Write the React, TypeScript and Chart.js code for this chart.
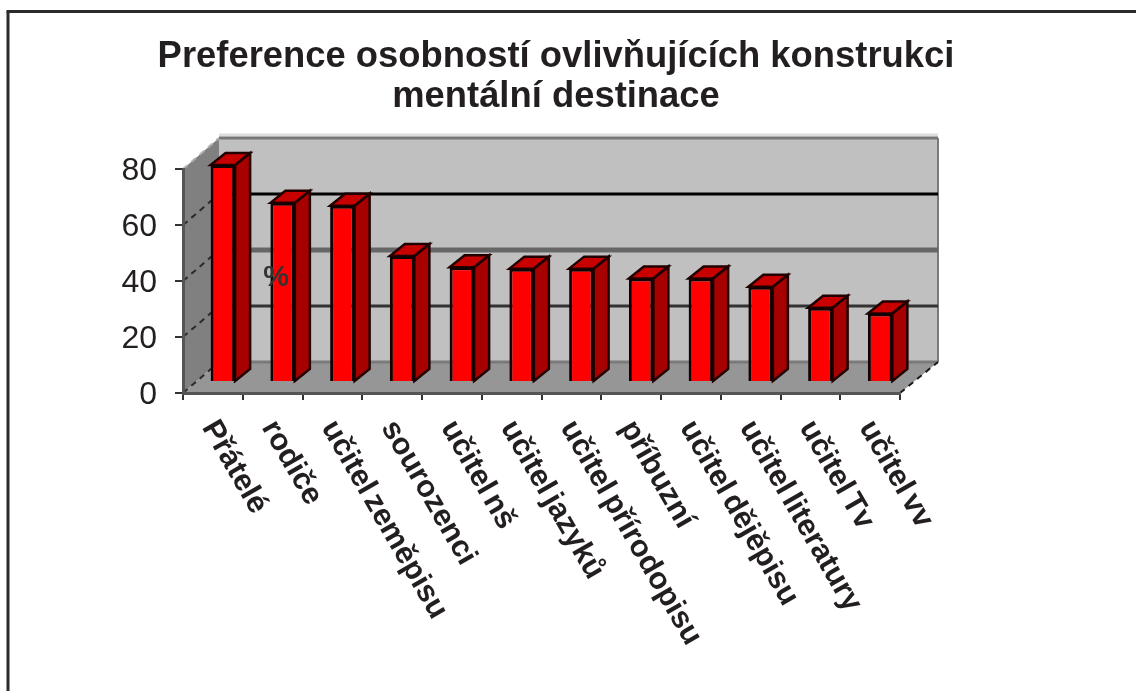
import React, { useEffect, useRef } from "react";
import { Chart, registerables } from "chart.js";

Chart.register(...registerables);

const titleLines = ["Preference osobností ovlivňujících konstrukci", "mentální destinace"];
const categories = [
  "Přátelé", "rodiče", "učitel zeměpisu", "sourozenci", "učitel nš", "učitel jazyků",
  "učitel přírodopisu", "příbuzní", "učitel dějěpisu", "učitel literatury", "učitel Tv", "učitel vv",
];
const percentValues = [77.5, 64, 63, 45, 41, 40.5, 40.5, 37, 37, 34, 26.5, 24.5];
const axisUnit = "%";

const FONT = "'Liberation Sans', Arial, sans-serif";
const INK = "#231f20";
const WALL_DX = 36;
const WALL_DY = 31;
const BAR_SHIFT_X = 10;
const BAR_SHIFT_Y = -11;
const BAR_DX = 15;
const BAR_DY = 12;
const LABEL_ANGLE = 60;
const gridStyle: Record<number, [string, number]> = {
  20: ["#333333", 3],
  40: ["#666666", 5],
  60: ["#000000", 3],
  80: ["#777777", 3],
};

const poly = (ctx: CanvasRenderingContext2D, pts: number[][], fill: string) => {
  ctx.beginPath();
  pts.forEach(([x, y], i) => (i ? ctx.lineTo(x, y) : ctx.moveTo(x, y)));
  ctx.closePath();
  ctx.fillStyle = fill;
  ctx.fill();
};

const line = (ctx: CanvasRenderingContext2D, x0: number, y0: number, x1: number, y1: number, color: string, w: number, dash: number[] = []) => {
  ctx.save();
  ctx.beginPath();
  ctx.setLineDash(dash);
  ctx.moveTo(x0, y0);
  ctx.lineTo(x1, y1);
  ctx.strokeStyle = color;
  ctx.lineWidth = w;
  ctx.stroke();
  ctx.restore();
};

const scene3d = {
  id: "scene3d",
  afterLayout(chart: any) {
    chart.titleBlock.left = 0;
    chart.titleBlock.right = 1112;
    const x = chart.scales.x;
    if (!x.__tight) {
      x.__tight = true;
      const drawLabels = x.drawLabels.bind(x);
      x.drawLabels = (area: any) => {
        chart.ctx.save();
        chart.ctx.wordSpacing = "-4px";
        drawLabels(area);
        chart.ctx.restore();
      };
    }
  },
  beforeDraw(chart: any) {
    const { ctx, chartArea: a, scales } = chart;
    const y = scales.y;
    ctx.save();
    ctx.fillStyle = "#ffffff";
    ctx.fillRect(0, 0, chart.width, chart.height);
    // frame
    line(ctx, 8, 11.5, 8, chart.height, "#2b2b2b", 3);
    line(ctx, 6.5, 11.5, chart.width, 11.5, "#2b2b2b", 3);

    const bx = a.left + WALL_DX;
    const rx = a.right + WALL_DX + 2;
    const by = a.bottom - WALL_DY;
    const ty = a.top - WALL_DY;
    // back wall
    poly(ctx, [[bx, ty], [rx, ty], [rx, by], [bx, by]], "#c0c0c0");
    line(ctx, bx, ty - 3, rx, ty - 3, "#dddddd", 3);
    // side wall
    poly(ctx, [[a.left, a.top], [bx, ty], [bx, by], [a.left, a.bottom]], "#808080");
    // floor
    poly(ctx, [[a.left, a.bottom], [a.right, a.bottom], [rx, by], [bx, by]], "#969696");
    line(ctx, bx, by, rx, by, "#7a7a7a", 3);
    line(ctx, rx, ty, rx, by, "#7a7a7a", 2);

    y.ticks.forEach((t: any) => {
      if (t.value === 0) return;
      const py = y.getPixelForValue(t.value);
      const [color, w] = gridStyle[t.value] || ["#555", 2];
      line(ctx, bx, py - WALL_DY, rx, py - WALL_DY, color, w);
      line(ctx, a.left, py, bx, py - WALL_DY, t.value === 80 ? "#b0b0b0" : "#2b2b2b", 2, [6, 5]);
    });
    line(ctx, a.left, a.bottom, bx, by, "#2b2b2b", 2, [6, 5]);
    line(ctx, a.right, a.bottom, rx, by, "#1a1a1a", 2, [6, 5]);
    ctx.restore();

    // tick labels run downwards to the right, starting at the tick
    const rot = (LABEL_ANGLE * Math.PI) / 180;
    scales.x.getLabelItems(a).forEach((item: any) => {
      item.options.textAlign = "left";
      item.options.rotation = rot;
      item.options.translation = [item.options.translation[0] - 4, item.options.translation[1]];
    });
    scales.y.getLabelItems(a).forEach((item: any) => {
      item.options.translation = [item.options.translation[0], item.options.translation[1] + 2];
    });
  },
  beforeDatasetDraw(chart: any, args: any) {
    const { ctx } = chart;
    ctx.save();
    args.meta.data.forEach((el: any) => {
      const l = el.x - el.width / 2 + BAR_SHIFT_X;
      const r = el.x + el.width / 2 + BAR_SHIFT_X;
      const t = el.y + BAR_SHIFT_Y;
      const b = el.base + BAR_SHIFT_Y;
      const side = [[r, b], [r + BAR_DX, b - BAR_DY], [r + BAR_DX, t - BAR_DY], [r, t]];
      const top = [[l, t], [l + BAR_DX, t - BAR_DY], [r + BAR_DX, t - BAR_DY], [r, t]];
      poly(ctx, side, "#a60000");
      poly(ctx, top, "#c80000");
      ctx.lineWidth = 2.5;
      ctx.strokeStyle = "#220000";
      [side, top].forEach((pts) => {
        ctx.beginPath();
        pts.forEach(([x, y], i) => (i ? ctx.lineTo(x, y) : ctx.moveTo(x, y)));
        ctx.closePath();
        ctx.stroke();
      });
    });
    ctx.translate(BAR_SHIFT_X, BAR_SHIFT_Y);
  },
  afterDatasetDraw(chart: any) {
    chart.ctx.restore();
  },
  afterDatasetsDraw(chart: any) {
    const { ctx, scales } = chart;
    ctx.save();
    ctx.font = `bold 29px ${FONT}`;
    ctx.fillStyle = "#333333";
    ctx.textAlign = "center";
    ctx.textBaseline = "middle";
    ctx.fillText(axisUnit, scales.x.getPixelForValue(1) + 3.5, scales.y.getPixelForValue(41));
    ctx.restore();
  },
};

export default function App() {
  const ref = useRef<HTMLCanvasElement>(null);
  useEffect(() => {
    const chart = new Chart(ref.current!, {
      type: "bar",
      data: {
        labels: categories,
        datasets: [
          {
            label: axisUnit,
            data: percentValues,
            backgroundColor: "#ff0000",
            borderColor: "#140000",
            borderWidth: 3,
            barPercentage: 0.41,
            categoryPercentage: 1,
          },
        ],
      },
      options: {
        responsive: false,
        animation: false,
        layout: { padding: { left: 0, right: 236, top: 0, bottom: 0 } },
        plugins: {
          legend: { display: false },
          tooltip: { enabled: false },
          title: {
            display: true,
            text: titleLines,
            color: INK,
            font: { family: FONT, size: 36.4, weight: "bold", lineHeight: 1.1 },
            padding: { top: 37, bottom: 52 },
          },
        },
        scales: {
          x: {
            type: "category",
            grid: { offset: true, drawOnChartArea: false, drawTicks: true, tickLength: 7, color: "#333333", lineWidth: 2 },
            border: { display: true, color: "#555555", width: 3 },
            ticks: {
              autoSkip: false,
              minRotation: -LABEL_ANGLE,
              maxRotation: -LABEL_ANGLE,
              color: INK,
              padding: 14,
              font: { family: FONT, size: 30.5, weight: "bold" },
            },
            afterFit(s: any) {
              s.height = 298;
              s.paddingLeft = 0;
              s.paddingRight = 0;
            },
          },
          y: {
            min: 0,
            max: 80,
            grid: { drawOnChartArea: false, drawTicks: true, tickLength: 8, color: "#333333", lineWidth: 2 },
            border: { display: true, color: "#555555", width: 3 },
            ticks: {
              stepSize: 20,
              color: INK,
              padding: 18,
              font: { family: FONT, size: 32 },
            },
            afterFit(s: any) {
              s.width = 183;
              s.paddingTop = 0;
              s.paddingBottom = 0;
            },
          },
        },
      },
      plugins: [scene3d],
    } as any);
    return () => chart.destroy();
  }, []);
  return (
    <div style={{ position: "fixed", left: 0, top: 0, width: 1136, height: 691, overflow: "hidden" }}>
      <canvas ref={ref} width={1136} height={691} style={{ display: "block" }} />
    </div>
  );
}
